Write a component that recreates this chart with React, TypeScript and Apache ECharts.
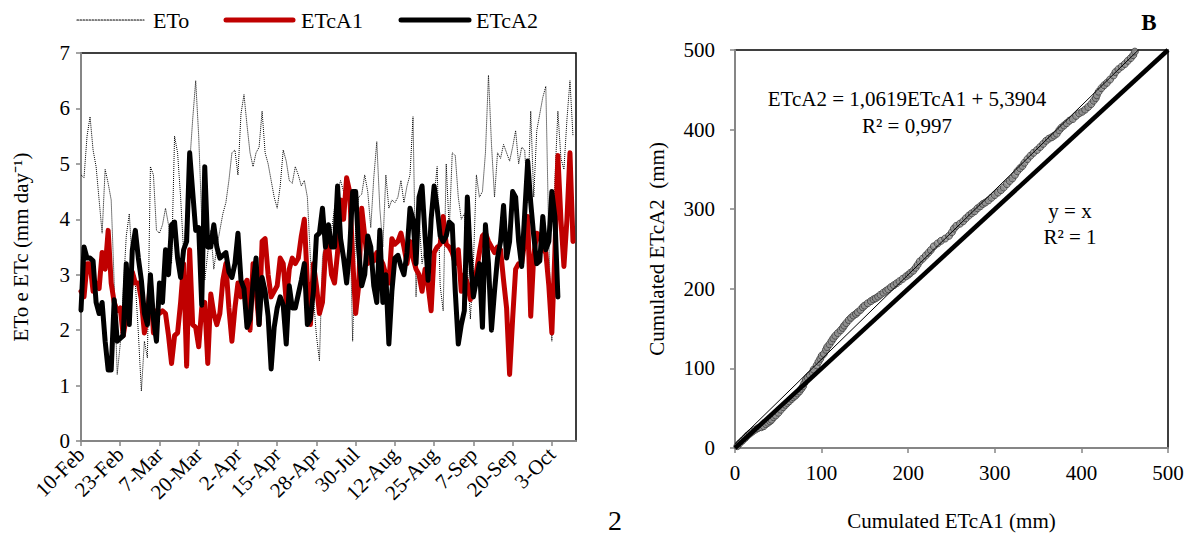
import React, { useEffect, useRef } from 'react';
import * as echarts from 'echarts';

const MONTHS = ['Jan', 'Feb', 'Mar', 'Apr', 'May', 'Jun', 'Jul', 'Aug', 'Sep', 'Oct', 'Nov', 'Dec'];
// two measurement seasons (category axis, text labels)
const SEASONS: [string, string][] = [
  ['2016-02-10', '2016-05-04'],
  ['2016-07-24', '2016-10-11'],
];
function buildDates(): string[] {
  const out: string[] = [];
  for (const [s, e] of SEASONS) {
    const d = new Date(s + 'T00:00:00Z');
    const end = new Date(e + 'T00:00:00Z');
    while (d.getTime() <= end.getTime()) {
      out.push(d.getUTCDate() + '-' + MONTHS[d.getUTCMonth()]);
      d.setUTCDate(d.getUTCDate() + 1);
    }
  }
  return out;
}
const CATEGORIES = buildDates();

const SERIES_NAMES = ['ETo', 'ETcA1', 'ETcA2'];

const ETO = [
  4.8, 4.75, 5.5, 5.85, 5.25, 4.95, 4.35, 3.75, 4.9, 4.65,
  4.35, 2.85, 1.2, 1.75, 2.7, 3.7, 4.1, 3.2, 2.85, 1.95,
  0.9, 1.8, 1.5, 4.95, 4.8, 3.8, 3.75, 3.9, 4.2, 3.9,
  3.2, 5.5, 5.2, 4.4, 3.4, 4.2, 5.0, 5.8, 6.5, 5.5,
  4.0, 2.9, 3.4, 3.8, 3.1, 3.5, 3.8, 4.1, 4.3, 4.7,
  5.2, 5.25, 4.8, 5.9, 6.25, 5.7, 5.2, 4.95, 5.2, 5.3,
  5.95, 5.2, 5.0, 4.7, 4.4, 4.2, 4.6, 5.25, 5.05, 4.7,
  4.65, 4.95, 4.8, 4.6, 4.7, 4.4, 3.3, 2.6, 1.9, 1.45,
  3.3, 3.7, 3.6, 3.8, 4.2, 4.5, 4.7, 4.5, 4.65, 4.3,
  1.8, 3.9, 4.4, 4.45, 4.8, 4.5, 3.85, 4.75, 5.4, 4.2,
  3.5, 4.8, 4.2, 4.35, 4.3, 4.4, 4.7, 4.3, 4.6, 4.8,
  5.85, 2.6, 4.0, 3.2, 3.5, 3.25, 4.2, 4.4, 4.95, 2.8,
  2.35, 5.0, 3.8, 5.2, 5.15, 4.4, 4.0, 4.1, 3.2, 2.2,
  3.2, 4.8, 4.4, 4.5, 5.2, 6.6, 5.35, 4.4, 5.2, 5.1,
  5.35, 5.2, 5.05, 5.3, 5.6, 5.0, 5.3, 5.25, 4.3, 5.95,
  4.4, 5.6, 5.9, 6.2, 6.4, 3.6, 1.8, 4.7, 5.95, 5.1,
  4.9, 5.8, 6.5, 5.5,
];

const ETCA1 = [
  2.7, 2.6, 3.2, 3.2, 2.7, 2.85, 2.75, 3.4, 3.1, 3.8,
  2.85, 2.5, 2.35, 2.4, 1.9, 2.25, 2.5, 3.05, 2.85, 2.85,
  2.55, 1.95, 2.25, 2.85, 1.95, 2.35, 2.3, 2.35, 2.3, 1.9,
  1.4, 1.9, 1.95, 2.5, 3.2, 1.35, 3.45, 2.1, 2.05, 1.7,
  2.4, 2.5, 1.4, 2.65, 2.3, 2.1, 2.3, 2.9, 3.2, 2.4,
  1.8, 2.4, 2.85, 2.6, 2.8, 2.9, 2.0, 3.2, 2.7, 2.1,
  3.6, 3.65, 3.0, 2.6, 2.7, 2.8, 3.3, 3.2, 2.5, 3.1,
  3.3, 3.2, 3.3, 3.7, 4.0, 2.85, 2.1, 3.2, 2.8, 2.3,
  2.5, 3.4, 3.55, 3.0, 2.85, 3.4, 4.35, 4.0, 4.75, 4.5,
  3.3, 2.3, 2.8, 4.2, 3.7, 3.2, 3.4, 3.25, 3.4, 3.3,
  3.2, 3.0, 2.85, 3.65, 3.55, 3.6, 3.75, 3.5, 3.2, 3.6,
  3.3, 3.1, 3.0, 2.7, 3.1, 2.8, 2.35, 3.4, 3.5, 3.55,
  4.05, 3.55, 3.5, 3.4, 3.2, 3.45, 2.7, 3.0, 2.85, 2.55,
  2.95, 3.05, 3.4, 3.7, 3.75, 3.6, 3.5, 3.4, 3.5, 3.45,
  2.9, 2.4, 1.2, 2.2, 3.1, 3.2, 3.2, 3.6, 4.05, 2.25,
  3.35, 3.75, 3.7, 3.45, 3.4, 2.8, 1.95, 3.4, 5.15, 4.0,
  3.15, 4.0, 5.2, 3.6,
];

const ETCA2 = [
  2.36, 3.5, 3.3, 3.3, 3.25, 2.5, 2.3, 2.5, 1.8, 1.28,
  1.28, 2.55, 1.8, 1.85, 1.9, 3.2, 2.1, 3.45, 3.8, 3.3,
  2.9, 2.3, 2.1, 3.0, 2.2, 1.8, 2.85, 2.5, 3.45, 3.0,
  3.9, 3.95, 3.3, 2.95, 3.45, 3.6, 5.2, 4.5, 3.8, 3.85,
  2.45, 4.95, 3.5, 3.5, 3.9, 3.5, 3.3, 3.35, 3.4, 3.05,
  2.95, 3.2, 3.75, 2.9, 2.75, 2.05, 2.2, 2.85, 3.3, 2.1,
  2.95, 2.7, 2.25, 1.3, 2.05, 2.4, 2.6, 2.45, 1.75, 2.8,
  2.4, 2.4, 2.65, 2.9, 3.2, 2.1, 2.2, 2.7, 3.7, 3.75,
  4.2, 3.5, 3.9, 3.5, 3.5, 4.6, 3.65, 3.3, 2.85, 3.45,
  4.5, 4.5, 3.45, 2.8, 3.0, 3.7, 3.5, 2.8, 2.5, 3.8,
  2.5, 3.0, 1.75, 2.7, 3.3, 3.35, 3.15, 3.0, 3.4, 4.2,
  4.0, 3.2, 4.4, 4.6, 3.7, 2.9, 4.0, 4.6, 4.2, 3.7,
  3.6, 3.7, 3.95, 3.9, 2.7, 1.75, 2.1, 2.35, 4.4, 3.3,
  2.6, 2.9, 3.2, 2.05, 3.9, 3.2, 2.0, 2.7, 3.3, 3.6,
  4.25, 3.3, 3.6, 4.5, 4.4, 3.6, 3.15, 4.1, 5.05, 4.3,
  3.7, 3.2, 3.25, 4.05, 3.45, 3.6, 4.5, 4.05, 2.6,
];

// regression reported on panel B
const TREND_SLOPE = 1.0619;
const TREND_INTERCEPT = 5.3904;
const EQ_TEXT = 'ETcA2 = 1,0619ETcA1 + 5,3904';
const EQ_R2 = 'R² = 0,997';
const ID_TEXT = 'y = x';
const ID_R2 = 'R² = 1';

const FONT = '"Liberation Serif", "Times New Roman", serif';
const AXIS_GRAY = '#868686';
const RED = '#C00000';

function cumulativePairs(a: number[], b: number[]): [number, number][] {
  const n = Math.min(a.length, b.length);
  const out: [number, number][] = [];
  let sa = 0;
  let sb = 0;
  for (let i = 0; i < n; i++) {
    sa += a[i];
    sb += b[i];
    out.push([sa, sb]);
  }
  return out;
}

export default function App() {
  const ref = useRef<HTMLDivElement>(null);
  useEffect(() => {
    if (!ref.current) return;
    const chart = echarts.init(ref.current, undefined, { renderer: 'svg' });
    const cum = cumulativePairs(ETCA1, ETCA2);
    const xMax = cum[cum.length - 1][0];
    const trend = [
      [0, TREND_INTERCEPT],
      [xMax, TREND_SLOPE * xMax + TREND_INTERCEPT],
    ];
    const axisLine = { show: true, lineStyle: { color: AXIS_GRAY, width: 2 } };
    const axisTick = { show: true, inside: false, length: 5, lineStyle: { color: AXIS_GRAY, width: 1.5 } };
    const labelStyle = { color: '#000', fontFamily: FONT, fontSize: 21 };
    const nameStyle = { color: '#000', fontFamily: FONT, fontSize: 21 };
    const legendY = 20;
    const legendItems = [
      { x0: 77, x1: 144, tx: 153, name: SERIES_NAMES[0], stroke: '#000', width: 1.2, dash: [1.5, 1.5] },
      { x0: 226, x1: 293, tx: 301, name: SERIES_NAMES[1], stroke: RED, width: 5, dash: null },
      { x0: 401, x1: 469, tx: 476, name: SERIES_NAMES[2], stroke: '#000', width: 5, dash: null },
    ];
    const legendGraphics: any[] = [];
    legendItems.forEach((it) => {
      legendGraphics.push({
        type: 'line',
        shape: { x1: it.x0, y1: legendY, x2: it.x1, y2: legendY },
        style: { stroke: it.stroke, lineWidth: it.width, lineDash: it.dash || undefined, lineCap: 'round' },
      });
      legendGraphics.push({
        type: 'text',
        x: it.tx,
        y: legendY,
        style: { text: it.name, fill: '#000', font: `22px ${FONT}`, align: 'left', verticalAlign: 'middle' },
      });
    });
    chart.setOption({
      animation: false,
      backgroundColor: '#fff',
      grid: [
        { left: 81, top: 53, width: 495, height: 388, show: true, borderColor: '#000', borderWidth: 1.5 },
        { left: 735, top: 50, width: 433, height: 407, show: true, borderColor: '#000', borderWidth: 1.5 },
      ],
      xAxis: [
        {
          type: 'category',
          gridIndex: 0,
          data: CATEGORIES,
          boundaryGap: false,
          axisLine,
          axisTick: { ...axisTick, interval: 12 },
          axisLabel: { ...labelStyle, fontSize: 21, interval: 12, rotate: 45, margin: 10 },
          splitLine: { show: false },
        },
        {
          type: 'value',
          gridIndex: 1,
          min: 0,
          max: 500,
          interval: 100,
          axisLine,
          axisTick,
          axisLabel: { ...labelStyle, margin: 14 },
          splitLine: { show: false },
          name: 'Cumulated ETcA1 (mm)',
          nameLocation: 'middle',
          nameGap: 62,
          nameTextStyle: nameStyle,
        },
      ],
      yAxis: [
        {
          type: 'value',
          gridIndex: 0,
          min: 0,
          max: 7,
          interval: 1,
          axisLine,
          axisTick,
          axisLabel: { ...labelStyle, margin: 11 },
          splitLine: { show: false },
          name: 'ETo e ETc (mm day⁻¹)',
          nameLocation: 'middle',
          nameGap: 50,
          nameTextStyle: nameStyle,
        },
        {
          type: 'value',
          gridIndex: 1,
          min: 0,
          max: 500,
          interval: 100,
          axisLine,
          axisTick,
          axisLabel: { ...labelStyle, margin: 20 },
          splitLine: { show: false },
          name: 'Cumulated ETcA2  (mm)',
          nameLocation: 'middle',
          nameGap: 68,
          nameTextStyle: nameStyle,
        },
      ],
      series: [
        {
          name: SERIES_NAMES[0],
          type: 'line',
          xAxisIndex: 0,
          yAxisIndex: 0,
          data: ETO,
          symbol: 'none',
          showSymbol: false,
          itemStyle: { color: '#000' },
          lineStyle: { color: '#000', width: 1, type: 'dotted' },
        },
        {
          name: SERIES_NAMES[1],
          type: 'line',
          xAxisIndex: 0,
          yAxisIndex: 0,
          data: ETCA1,
          symbol: 'none',
          showSymbol: false,
          itemStyle: { color: RED },
          lineStyle: { color: RED, width: 5, join: 'round', cap: 'round' },
        },
        {
          name: SERIES_NAMES[2],
          type: 'line',
          xAxisIndex: 0,
          yAxisIndex: 0,
          data: ETCA2,
          symbol: 'none',
          showSymbol: false,
          itemStyle: { color: '#000' },
          lineStyle: { color: '#000', width: 5, join: 'round', cap: 'round' },
        },
        {
          name: 'Cumulated',
          type: 'scatter',
          xAxisIndex: 1,
          yAxisIndex: 1,
          data: cum,
          symbol: 'circle',
          symbolSize: 7,
          itemStyle: { color: '#8c8c8c', borderColor: '#3c3c3c', borderWidth: 1 },
        },
        {
          name: 'Trend',
          type: 'line',
          xAxisIndex: 1,
          yAxisIndex: 1,
          data: trend,
          symbol: 'none',
          lineStyle: { color: '#000', width: 1 },
        },
        {
          name: '1:1',
          type: 'line',
          xAxisIndex: 1,
          yAxisIndex: 1,
          data: [
            [0, 0],
            [500, 500],
          ],
          symbol: 'none',
          lineStyle: { color: '#000', width: 4.5 },
        },
      ],
      graphic: [
        ...legendGraphics,
        { type: 'text', x: 907, y: 99, style: { text: EQ_TEXT, fill: '#000', font: `21px ${FONT}`, align: 'center', verticalAlign: 'middle' } },
        { type: 'text', x: 907, y: 126, style: { text: EQ_R2, fill: '#000', font: `21px ${FONT}`, align: 'center', verticalAlign: 'middle' } },
        { type: 'text', x: 1070, y: 211, style: { text: ID_TEXT, fill: '#000', font: `21px ${FONT}`, align: 'center', verticalAlign: 'middle' } },
        { type: 'text', x: 1070, y: 237, style: { text: ID_R2, fill: '#000', font: `21px ${FONT}`, align: 'center', verticalAlign: 'middle' } },
        { type: 'text', x: 1149, y: 22, style: { text: 'B', fill: '#000', font: `bold 23px ${FONT}`, align: 'center', verticalAlign: 'middle' } },
        { type: 'text', x: 615, y: 520, style: { text: '2', fill: '#000', font: `28px ${FONT}`, align: 'center', verticalAlign: 'middle' } },
      ],
    });
    return () => chart.dispose();
  }, []);
  return <div ref={ref} style={{ position: 'fixed', left: 0, top: 0, width: 1194, height: 536 }} />;
}
